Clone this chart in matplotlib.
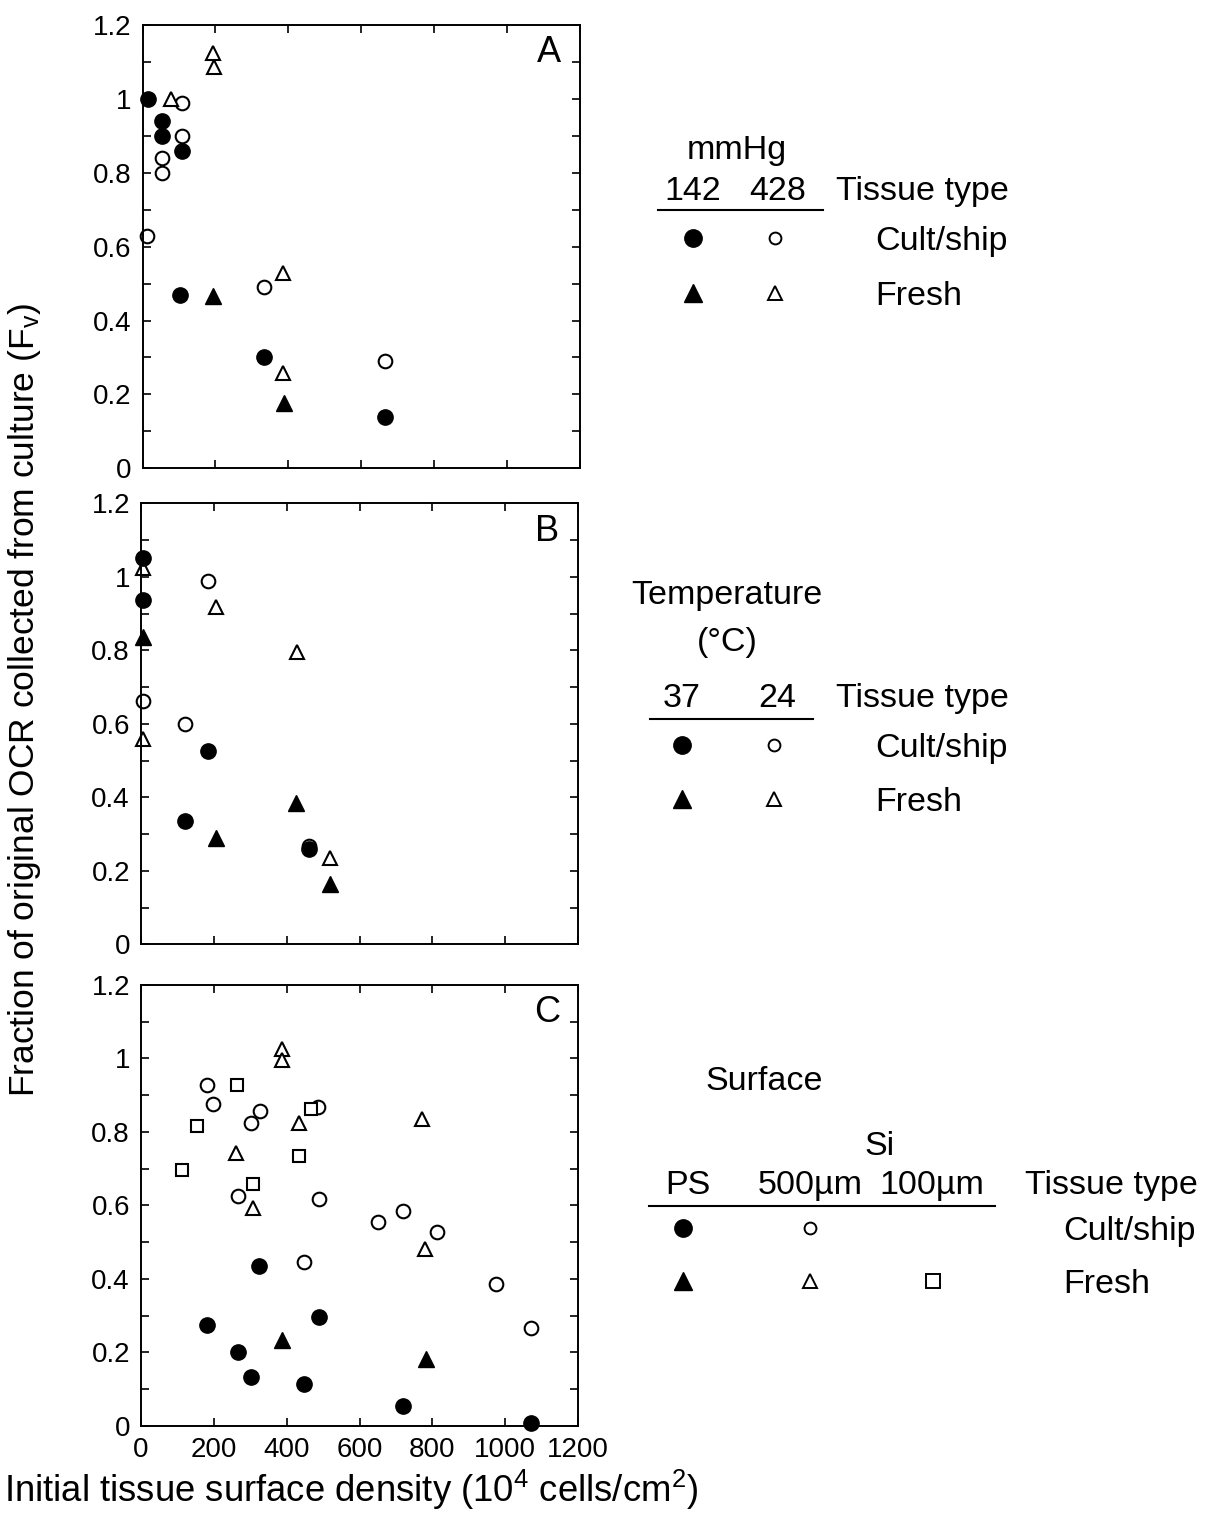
import matplotlib
matplotlib.use('Agg')
import matplotlib.pyplot as plt
from matplotlib.lines import Line2D
from matplotlib.ticker import MultipleLocator, FuncFormatter

plt.rcParams['font.family'] = ['Liberation Sans', 'DejaVu Sans']
plt.rcParams['mathtext.fontset'] = 'custom'
plt.rcParams['mathtext.rm'] = 'Liberation Sans'
plt.rcParams['mathtext.it'] = 'Liberation Sans:italic'
plt.rcParams['mathtext.bf'] = 'Liberation Sans:bold'

# ---------------- data ----------------
# Panel A (oxygen partial pressure, mmHg)
A_cult_142_x = [15, 54, 54, 107, 104, 332, 664]
A_cult_142_y = [1.00, 0.94, 0.90, 0.86, 0.47, 0.30, 0.14]
A_cult_428_x = [109, 109, 54, 54, 13, 332, 664]
A_cult_428_y = [0.99, 0.90, 0.84, 0.80, 0.63, 0.49, 0.29]
A_fresh_142_x = [193, 387]
A_fresh_142_y = [0.467, 0.178]
A_fresh_428_x = [77, 194, 196, 385, 385]
A_fresh_428_y = [1.00, 1.125, 1.085, 0.528, 0.257]

# Panel B (temperature, deg C)
B_cult_37_x = [6, 6, 122, 185, 461]
B_cult_37_y = [1.05, 0.938, 0.335, 0.527, 0.258]
B_cult_24_x = [5, 122, 185, 461]
B_cult_24_y = [0.662, 0.60, 0.988, 0.267]
B_fresh_37_x = [5, 207, 427, 518]
B_fresh_37_y = [0.837, 0.29, 0.385, 0.165]
B_fresh_24_x = [5, 5, 207, 429, 518]
B_fresh_24_y = [1.025, 0.558, 0.917, 0.796, 0.234]

# Panel C (surface)
C_ps_cult_x = [180, 265, 302, 325, 447, 489, 720, 1070]
C_ps_cult_y = [0.274, 0.20, 0.133, 0.435, 0.113, 0.295, 0.054, 0.006]
C_ps_fresh_x = [386, 782]
C_ps_fresh_y = [0.233, 0.182]
C_si500_cult_x = [180, 199, 301, 327, 267, 447, 489, 487, 652, 720, 813, 976, 1070]
C_si500_cult_y = [0.927, 0.877, 0.825, 0.858, 0.625, 0.446, 0.616, 0.868,
                  0.555, 0.585, 0.528, 0.386, 0.265]
C_si500_fresh_x = [386, 386, 261, 308, 433, 772, 781]
C_si500_fresh_y = [1.027, 0.995, 0.743, 0.592, 0.823, 0.834, 0.482]
C_si100_fresh_x = [112, 153, 263, 308, 434, 466]
C_si100_fresh_y = [0.696, 0.817, 0.927, 0.657, 0.735, 0.861]

panel_letters = ['A', 'B', 'C']
x_ticks = [0, 200, 400, 600, 800, 1000, 1200]
y_label = r'Fraction of original OCR collected from culture (F$_{\mathrm{v}}$)'
x_label = r'Initial tissue surface density (10$^{4}$ cells/cm$^{2}$)'

# ---------------- styles ----------------
FC = dict(marker='o', ms=11, mfc='black', mec='black', mew=1.0, ls='none', clip_on=False)
OC = dict(marker='o', ms=9.8, mfc='white', mec='black', mew=1.5, ls='none', clip_on=False)
FT = dict(marker='^', ms=11.5, mfc='black', mec='black', mew=1.0, ls='none', clip_on=False)
OT = dict(marker='^', ms=10.3, mfc='white', mec='black', mew=1.5, ls='none', clip_on=False)
OS = dict(marker='s', ms=9.3, mfc='white', mec='black', mew=1.5, ls='none', clip_on=False)

W, H = 1215, 1514
fig = plt.figure(figsize=(W / 100, H / 100), dpi=100)


def fx(x):
    return x / W


def fy(y):
    return 1 - y / H


boxes = [(142.5, 580, 25, 468.3), (141, 578, 503.3, 944.3), (141, 578, 985, 1425.7)]
axes = []
for i, (l, r, t, b) in enumerate(boxes):
    ax = fig.add_axes([fx(l), fy(b), (r - l) / W, (b - t) / H])
    ax.set_xlim(0, 1200)
    ax.set_ylim(0, 1.2)
    ax.xaxis.set_major_locator(MultipleLocator(200))
    ax.yaxis.set_major_locator(MultipleLocator(0.2))
    ax.yaxis.set_minor_locator(MultipleLocator(0.1))
    ax.yaxis.set_major_formatter(FuncFormatter(lambda v, p: f'{v:g}'))
    ax.tick_params(which='both', direction='in', top=True, right=True,
                   length=6, width=1.2, labelsize=20, pad=8)
    for s in ax.spines.values():
        s.set_linewidth(1.4)
    if i < 2:
        ax.tick_params(labelbottom=False)
    ax.text(0.93, 0.937, panel_letters[i], transform=ax.transAxes,
            ha='center', va='center', fontsize=26)
    axes.append(ax)

axA, axB, axC = axes
axA.plot(A_cult_428_x, A_cult_428_y, **OC)
axA.plot(A_fresh_428_x, A_fresh_428_y, **OT)
axA.plot(A_cult_142_x, A_cult_142_y, **FC)
axA.plot(A_fresh_142_x, A_fresh_142_y, **FT)

axB.plot(B_cult_24_x, B_cult_24_y, **OC)
axB.plot(B_fresh_24_x, B_fresh_24_y, **OT)
axB.plot(B_cult_37_x, B_cult_37_y, **FC)
axB.plot(B_fresh_37_x, B_fresh_37_y, **FT)

axC.plot(C_si500_cult_x, C_si500_cult_y, **OC)
axC.plot(C_si500_fresh_x, C_si500_fresh_y, **OT)
axC.plot(C_si100_fresh_x, C_si100_fresh_y, **OS)
axC.plot(C_ps_cult_x, C_ps_cult_y, **FC)
axC.plot(C_ps_fresh_x, C_ps_fresh_y, **FT)
axC.set_xticks(x_ticks)
axC.set_xticklabels([str(v) for v in x_ticks])

# axis labels
fig.text(fx(351), fy(1490), x_label, ha='center', va='center', fontsize=26.3)
fig.text(fx(25), fy(700), y_label, ha='center', va='center', rotation=90, fontsize=25.5)

# ---------------- legends ----------------
LFS = 24.5
LFC = dict(FC, ms=12.5)
LOC = dict(OC, ms=8.5, mew=1.4)
LFT = dict(FT, ms=12.5)
LOT = dict(OT, ms=9.5, mew=1.4)
LOS = dict(OS, ms=9.5, mew=1.4)


def txt(x, y, s, ha='center'):
    fig.text(fx(x), fy(y), s, ha=ha, va='center_baseline', fontsize=LFS)


def mk(x, y, style):
    fig.add_artist(Line2D([fx(x)], [fy(y)], transform=fig.transFigure, **style))


def hline(x0, x1, y):
    fig.add_artist(Line2D([fx(x0), fx(x1)], [fy(y), fy(y)], transform=fig.transFigure,
                          color='black', lw=1.5))


# Legend A
txt(737, 147, 'mmHg')
txt(693, 188, '142')
txt(778, 188, '428')
txt(836, 188, 'Tissue type', ha='left')
hline(658, 823, 210)
mk(693, 238, LFC)
mk(775, 238, LOC)
txt(875, 238, 'Cult/ship', ha='left')
mk(693, 293, LFT)
mk(775, 293, LOT)
txt(875, 293, 'Fresh', ha='left')

# Legend B
txt(727, 592, 'Temperature')
txt(727, 639, '(°C)')
txt(682, 695, '37')
txt(777, 695, '24')
txt(836, 695, 'Tissue type', ha='left')
hline(650, 813, 719)
mk(682, 745, LFC)
mk(774, 745, LOC)
txt(875, 745, 'Cult/ship', ha='left')
mk(682, 799, LFT)
mk(774, 799, LOT)
txt(875, 799, 'Fresh', ha='left')

# Legend C
txt(764, 1078, 'Surface')
txt(880, 1143, 'Si')
txt(688, 1182, 'PS')
txt(810, 1182, '500µm')
txt(932, 1182, '100µm')
txt(1025, 1182, 'Tissue type', ha='left')
hline(649, 995, 1206)
mk(683, 1228, LFC)
mk(810, 1228, LOC)
txt(1063, 1228, 'Cult/ship', ha='left')
mk(683, 1281, LFT)
mk(810, 1281, LOT)
mk(933, 1281, LOS)
txt(1063, 1281, 'Fresh', ha='left')

fig.savefig('out.png', dpi=100)
